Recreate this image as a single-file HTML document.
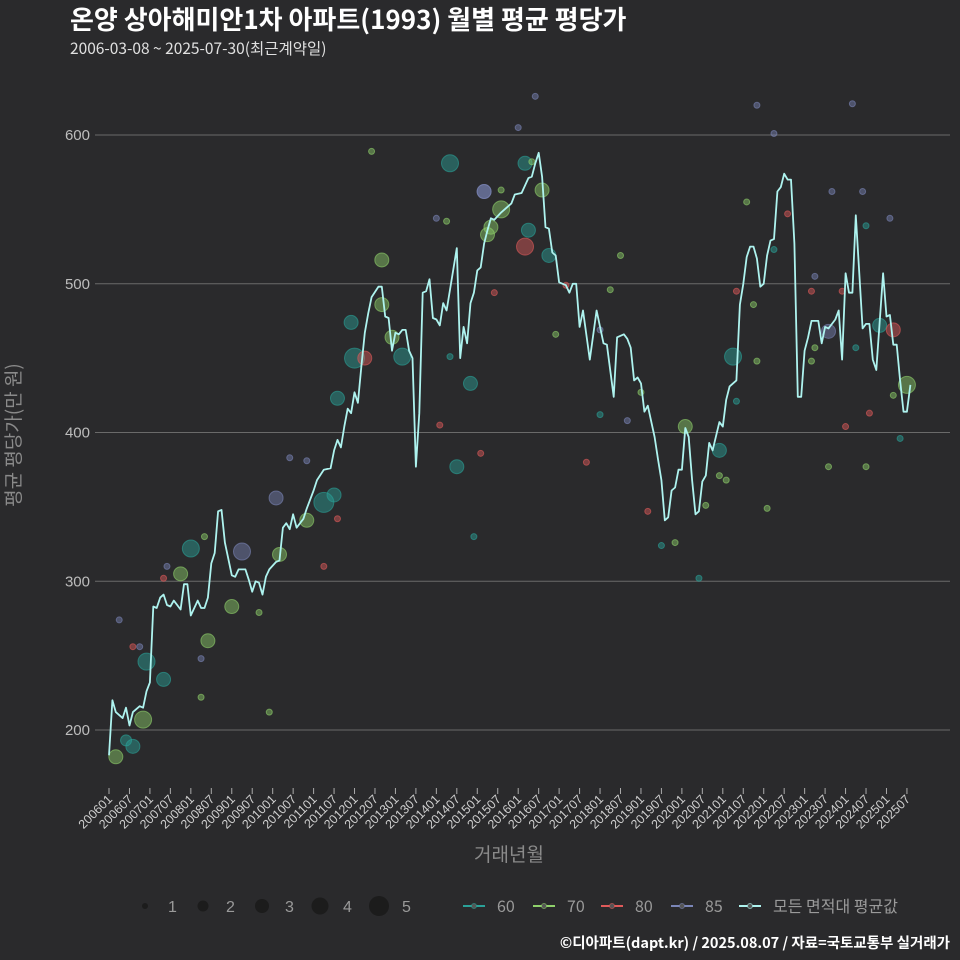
<!DOCTYPE html>
<html><head><meta charset="utf-8">
<style>
html,body{margin:0;padding:0;background:#2a2a2c;}
svg{display:block;font-family:"Liberation Sans","Noto Sans CJK KR",sans-serif;}
</style></head>
<body>
<svg id="chart" width="960" height="960" viewBox="0 0 960 960">
<rect x="0" y="0" width="960" height="960" fill="#2a2a2c"/>
<text x="70" y="29" fill="#ffffff" font-size="26" font-weight="bold" font-family="'Noto Sans CJK KR',sans-serif">온양 상아해미안1차 아파트(1993) 월별 평균 평당가</text>
<text x="70" y="54" fill="#e0e0e0" font-size="15.5" font-family="'Noto Sans CJK KR',sans-serif">2006-03-08 ~ 2025-07-30(최근계약일)</text>
<g id="grid"></g>
<g id="scatter"></g>
<g id="line"></g>
<g id="xaxis"></g>
<text transform="translate(20,435) rotate(-90)" text-anchor="middle" fill="#8a8a8a" font-size="19" font-family="'Noto Sans CJK KR',sans-serif">평균 평당가(만 원)</text>
<text x="509" y="861" text-anchor="middle" fill="#8a8a8a" font-size="19" font-family="'Noto Sans CJK KR',sans-serif">거래년월</text>
<g id="legend"></g>
<text x="950" y="948" text-anchor="end" fill="#ffffff" font-size="14.5" font-weight="bold" font-family="'Noto Sans CJK KR',sans-serif">©디아파트(dapt.kr) / 2025.08.07 / 자료=국토교통부 실거래가</text>
</svg>
<script>
// month index from 2006-01
const lineMonths=[0,1,2,4,5,6,7,9,10,11,12,13,14,15,16,17,18,19,21,22,23,24,26,27,28,29,30,31,32,33,34,36,37,38,40,41,42,43,44,45,46,47,49,50,51,52,53,54,55,57,58,60,61,63,65,66,67,68,69,70,71,72,73,74,75,76,77,79,80,81,82,83,84,85,86,87,88,89,90,91,92,93,94,95,96,97,98,99,102,103,104,105,106,107,108,109,110,111,112,113,115,117,118,119,121,123,124,125,126,127,128,129,130,131,132,134,135,136,137,138,139,141,143,145,146,148,149,151,152,153,154,155,156,157,158,160,161,162,163,164,165,166,167,168,169,170,171,172,173,174,175,176,177,179,180,181,182,184,185,186,187,188,189,190,191,192,193,194,195,196,197,198,199,200,201,202,203,204,205,206,208,209,210,211,213,214,215,216,217,218,219,221,222,223,224,225,227,228,229,230,231,232,233,234,235];
const lineValues=[183,220,212,208,215,203,212,216,215,226,232,283,282,289,291,284,283,287,281,298,298,277,287,282,282,289,312,319,347,348,326,304,303,308,308,301,293,300,299,291,303,308,313,314,336,339,335,345,336,342,349,361,368,375,376,388,395,390,404,416,413,427,420,444,467,480,491,498,498,478,477,455,467,466,469,469,455,450,377,413,494,495,503,477,476,472,487,482,524,450,471,460,487,494,509,511,527,536,544,543,548,552,554,560,561,571,572,581,588,572,538,537,521,519,501,499,494,500,500,471,482,449,482,460,459,424,464,466,463,457,435,437,433,414,418,397,382,368,341,343,361,363,375,375,403,397,368,345,347,367,371,393,388,407,404,422,431,435,486,500,518,525,525,517,498,500,519,529,530,562,565,574,570,570,527,424,424,455,464,475,475,460,471,470,476,482,449,507,494,494,546,470,473,473,449,442,507,478,479,459,459,435,414,414,432];
// scatter: month, value, size type (0=60,1=70,2=80,3=85), count
const dotMonths=[2,10,11,16,7,5,24,21,29,36,39,49,50,63,66,58,67,71,72,75,80,83,80,86,100,106,102,110,115,112,111,122,123,127,129,122,110,183,179,169,226,230,234,211,3,7,9,17,16,28,27,27,44,47,53,58,63,67,77,96,99,100,97,109,107,113,115,120,125,124,131,134,140,144,144,147,150,152,156,158,162,166,173,175,179,181,184,187,190,195,199,195,184,189,190,193,206,207,206,207,211,215,216,219,222,223,222,229,221,212,232,230,218];
const dotValues=[182,207,246,234,189,193,322,305,260,283,320,356,318,353,358,341,423,474,450,450,486,464,516,451,581,433,377,562,550,538,533,525,536,563,519,581,562,451,388,404,472,469,432,468,274,256,256,310,302,330,222,248,279,212,383,381,310,342,589,544,542,451,405,386,330,494,563,605,626,582,466,499,380,469,412,496,519,408,427,347,324,326,302,351,371,368,421,555,620,601,547,523,495,486,448,349,495,505,448,457,377,495,404,457,377,413,539,544,562,562,396,425,621];
const dotTypes=[1,1,0,0,0,0,0,1,1,1,3,3,1,0,0,1,0,0,0,2,1,1,1,0,0,0,0,3,1,1,1,2,0,1,0,0,3,0,0,1,0,2,1,3,3,2,3,3,2,1,1,3,1,1,3,3,2,2,1,3,1,0,2,2,0,2,1,3,3,1,1,2,2,3,0,1,1,3,1,2,0,1,0,1,1,1,0,1,3,3,2,0,2,1,1,1,2,3,1,1,1,2,2,0,1,2,0,3,3,3,0,1,3];
const dotCounts=[3,4,4,3,3,2,4,3,3,3,4,3,3,5,3,3,3,3,5,3,3,3,3,4,4,3,3,3,4,3,3,4,3,3,3,3,3,4,3,3,3,3,4,3,1,1,1,1,1,1,1,1,1,1,1,1,1,1,1,1,1,1,1,1,1,1,1,1,1,1,1,1,1,1,1,1,1,1,1,1,1,1,1,1,1,1,1,1,1,1,1,1,1,1,1,1,1,1,1,1,1,1,1,1,1,1,1,1,1,1,1,1,1];
const yTicks=[200,300,400,500,600];
const xTickLabels=[];
for(let y=2006;y<=2025;y++){xTickLabels.push(y+'01');xTickLabels.push(y+'07');}
const typeColors=['#2aa198','#8fd16b','#e05a5a','#7b86b8'];

const NS='http://www.w3.org/2000/svg';
function X(m){return 109+m*3.41;}
function Y(v){return 135+(600-v)*1.4875;}
function R(c){return [0,3,5.5,7,8.5,10][c];}
function mk(tag,attrs,parent){const e=document.createElementNS(NS,tag);for(const k in attrs)e.setAttribute(k,attrs[k]);parent.appendChild(e);return e;}

const grid=document.getElementById('grid');
yTicks.forEach(t=>{
  const l=mk('line',{x1:95,x2:950,y1:Y(t),y2:Y(t),stroke:'#6a6a6a','stroke-width':1},grid);
  
  
  const tx=mk('text',{x:90,y:Y(t)+5,'text-anchor':'end',fill:'#bdbdbd','font-size':15},grid);
  tx.textContent=t;
  
  
});

const sc=document.getElementById('scatter');
dotMonths.forEach((m,i)=>{
  const c=typeColors[dotTypes[i]];
  const el=mk('circle',{cx:X(m),cy:Y(dotValues[i]),r:R(dotCounts[i]),fill:c,'fill-opacity':0.45,stroke:c,'stroke-opacity':0.6,'stroke-width':1},sc);
  
  
});

const ln=document.getElementById('line');
const pts=lineMonths.map((m,i)=>X(m).toFixed(1)+','+Y(lineValues[i]).toFixed(1)).join(' ');
const pl=mk('polyline',{points:pts,fill:'none',stroke:'#aef3ef','stroke-width':1.8,'stroke-linejoin':'round'},ln);



const xa=document.getElementById('xaxis');
xTickLabels.forEach((lab,i)=>{
  const x=X(i*6);
  const t=mk('line',{x1:x,x2:x,y1:788,y2:794,stroke:'#aaaaaa','stroke-width':1},xa);
  
  
  const tx=mk('text',{x:x+4,y:800,'text-anchor':'end',fill:'#cfcfcf','font-size':12.5,transform:'rotate(-45 '+(x+4)+' 800)'},xa);
  tx.textContent=lab;
  
  
});

const lg=document.getElementById('legend');
const sizeX=[145,203,262,320,379];
[1,2,3,4,5].forEach((c,i)=>{
  const ci=mk('circle',{cx:sizeX[i],cy:906,r:R(c),fill:'#1c1c1c'},lg);
  
  
  const t=mk('text',{x:sizeX[i]+23,y:912,fill:'#9a9a9a','font-size':16},lg);
  t.textContent=c;
  
  
});
const entries=[[474,typeColors[0],'60'],[544,typeColors[1],'70'],[612,typeColors[2],'80'],[682,typeColors[3],'85'],[750,'#aef3ef','모든 면적대 평균값']];
entries.forEach(e=>{
  const l=mk('line',{x1:e[0]-11,x2:e[0]+11,y1:906,y2:906,stroke:e[1],'stroke-width':2},lg);
  
  
  const c=mk('circle',{cx:e[0],cy:906,r:2.5,fill:'#555',stroke:e[1],'stroke-opacity':0.6},lg);
  
  
  const t=mk('text',{x:e[0]+23,y:912,fill:'#9a9a9a','font-size':16,'font-family':"'Noto Sans CJK KR',sans-serif"},lg);
  t.textContent=e[2];
  
  
});
</script>
</body></html>
